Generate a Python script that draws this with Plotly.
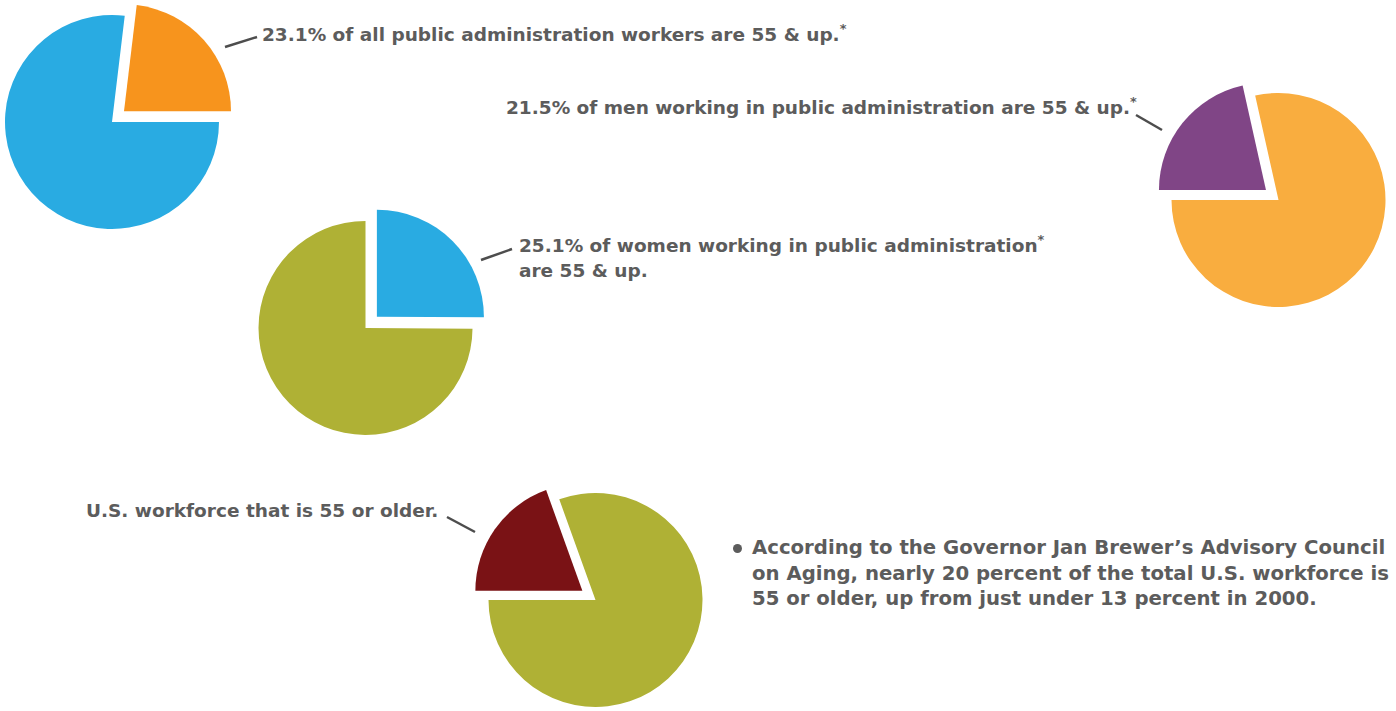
import math
import plotly.graph_objects as go

W, H = 1396, 711

# ---------------- data ----------------
slice_labels = ["55 & up", "Under 55"]
all_workers = [23.1, 76.9]      # all public administration workers
women_workers = [25.1, 74.9]    # women in public administration
men_workers = [21.5, 78.5]      # men in public administration
us_workforce = [19.5, 80.5]     # total U.S. workforce

text_all = "23.1% of all public administration workers are 55 & up.<sup>*</sup>"
text_men = "21.5% of men working in public administration are 55 & up.<sup>*</sup>"
text_women = ["25.1% of women working in public administration<sup>*</sup>", "are 55 & up."]
text_us = "U.S. workforce that is 55 or older."
note_lines = [
    "According to the Governor Jan Brewer\u2019s Advisory Council",
    "on Aging, nearly 20 percent of the total U.S. workforce is",
    "55 or older, up from just under 13 percent in 2000.",
]

# ---------------- styles ----------------
TXT = "#5c5c5c"
FONT = "DejaVu Sans"
R = 107
PULL = 0.15

fig = go.Figure()


def add_pie(values, colors, center, rotation, k):
    cx, cy = center
    total = sum(values)
    start = rotation + 360 * sum(values[:k]) / total
    mid = start + 180 * values[k] / total
    dx = PULL * R * math.sin(math.radians(mid))
    dy = -PULL * R * math.cos(math.radians(mid))
    for i, (ox, oy) in enumerate([(0, 0), (dx, dy)]):
        show = [(j == k) == (i == 1) for j in range(len(values))]
        cols = [c if s else "rgba(0,0,0,0)" for c, s in zip(colors, show)]
        x0, x1 = (cx + ox - R) / W, (cx + ox + R) / W
        y0, y1 = 1 - (cy + oy + R) / H, 1 - (cy + oy - R) / H
        fig.add_trace(go.Pie(
            labels=slice_labels, values=values, sort=False,
            direction="clockwise", rotation=rotation,
            marker=dict(colors=cols, line=dict(width=0)),
            textinfo="none", hoverinfo="skip", showlegend=False,
            domain=dict(x=[max(0, x0), min(1, x1)], y=[max(0, y0), min(1, y1)]),
        ))


add_pie(all_workers, ["#F7941D", "#29ABE2"], (112, 122), 90 - 360 * all_workers[0] / 100, 0)
add_pie(women_workers, ["#29ABE2", "#AFB135"], (365.5, 328), 0, 0)
add_pie(men_workers, ["#804586", "#F9AD3F"], (1278.5, 200), 270, 0)
add_pie(us_workforce, ["#7A1215", "#AFB135"], (595.5, 600), 270, 0)


def ann(text, x, y, size, anchor="left"):
    fig.add_annotation(text=text, x=x / W, y=1 - y / H, xref="paper", yref="paper",
                       xanchor=anchor, yanchor="middle", showarrow=False, align="left",
                       font=dict(family=FONT, size=size, color=TXT, weight="bold"))


def seg(x0, y0, x1, y1):
    fig.add_shape(type="line", xref="paper", yref="paper",
                  x0=x0 / W, y0=1 - y0 / H, x1=x1 / W, y1=1 - y1 / H,
                  line=dict(color="#4d4d4d", width=2.5))


ann(text_all, 260, 33, 18.5)
seg(225, 47, 257, 37)

ann(text_men, 504, 106, 18.5)
seg(1136, 115, 1162, 130)

ann(text_women[0], 517, 244, 18.5)
ann(text_women[1], 517, 270, 18.5)
seg(481, 260, 512, 249)

ann(text_us, 84, 510, 18.5)
seg(447, 517, 475, 532)

fig.add_shape(type="circle", xref="paper", yref="paper",
              x0=733 / W, x1=742 / W, y0=1 - 553 / H, y1=1 - 544 / H,
              fillcolor=TXT, line=dict(width=0))
ann("<br>".join(note_lines), 750, 573, 19.7)

fig.update_layout(width=W, height=H, margin=dict(l=0, r=0, t=0, b=0),
                  paper_bgcolor="white", plot_bgcolor="white")

fig.write_html("out.html")
